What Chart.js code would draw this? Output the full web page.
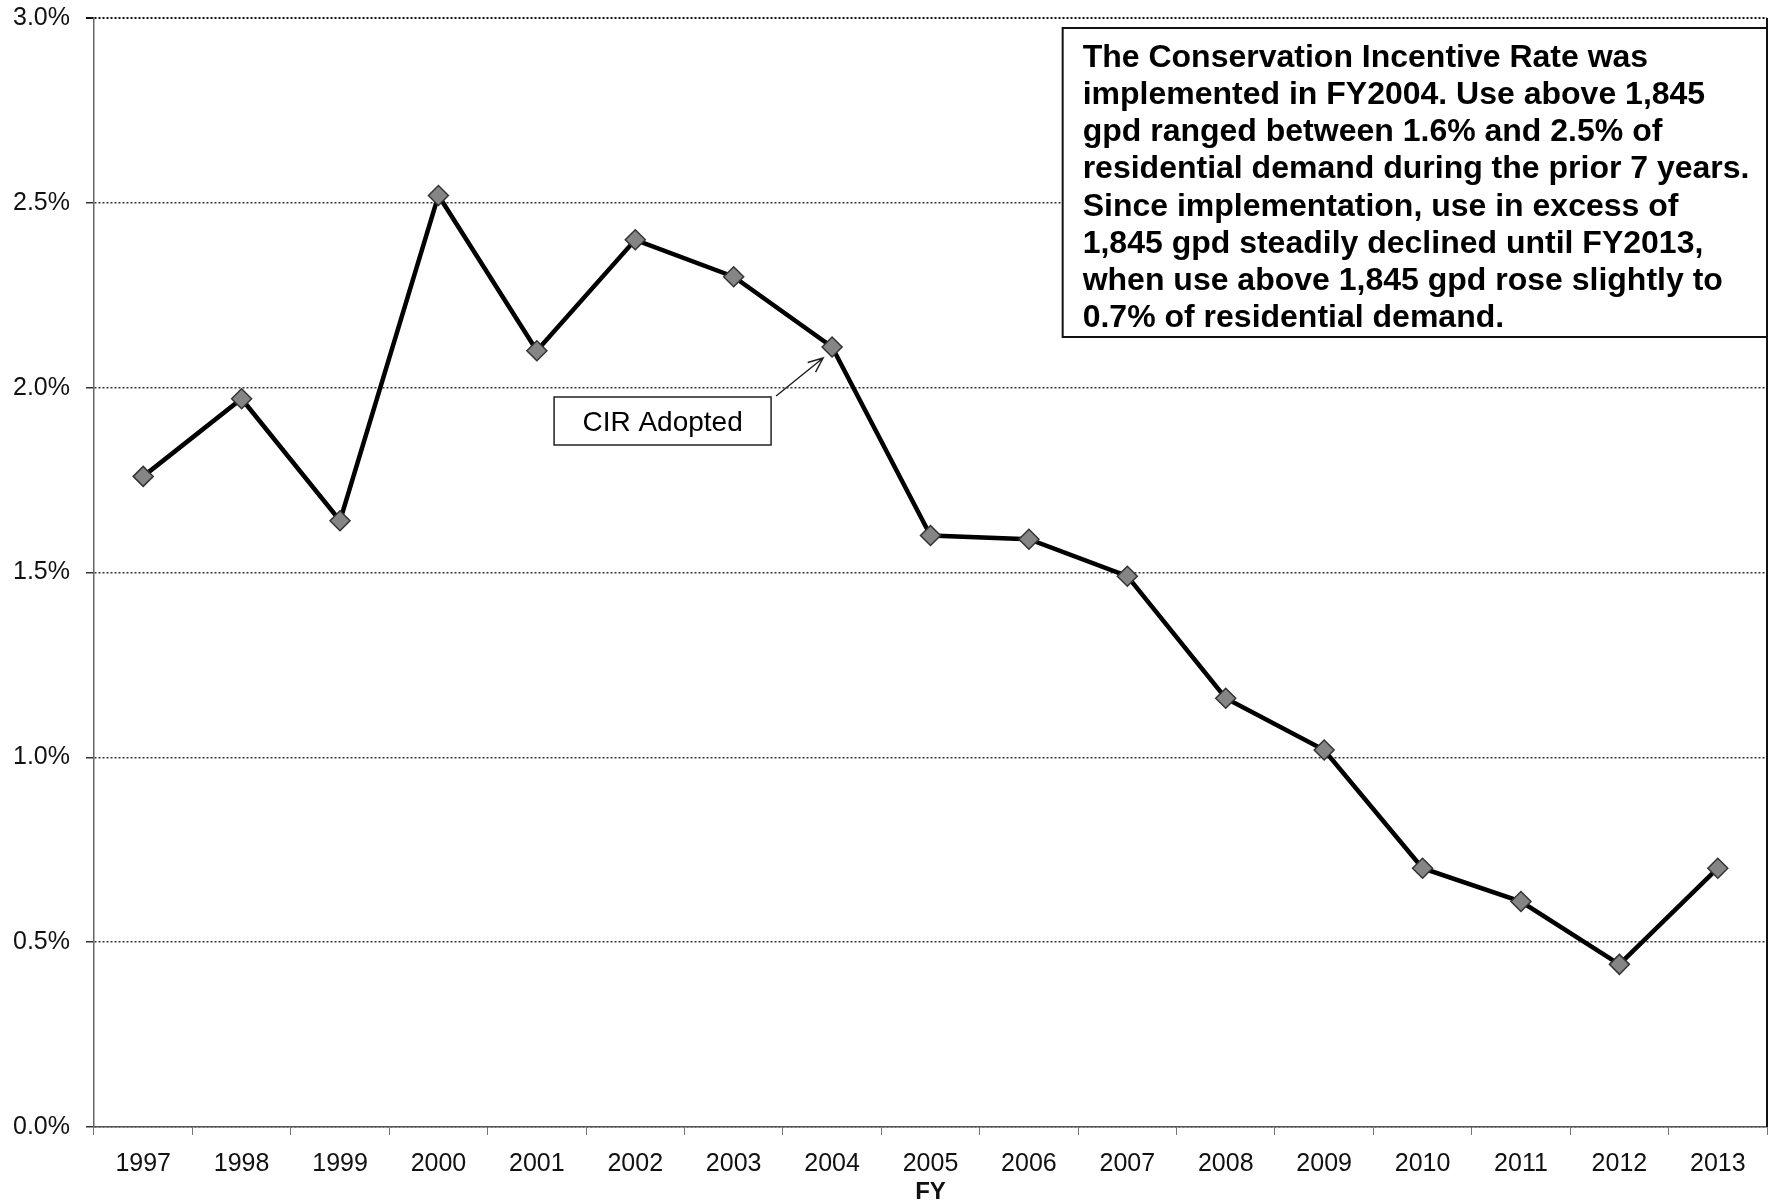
<!DOCTYPE html>
<html>
<head>
<meta charset="utf-8">
<script src="https://cdn.jsdelivr.net/npm/chart.js@4.4.1/dist/chart.umd.min.js"></script>
<style>
  html, body { margin: 0; padding: 0; background: #fff; }
  #wrap { width: 1773px; height: 1204px; }
</style>
</head>
<body>
<div id="wrap"><canvas id="fyChart" width="1773" height="1204"></canvas></div>
<script>
// fiscal years and share of residential demand above 1,845 gpd (%)
var years = ['1997', '1998', '1999', '2000', '2001', '2002', '2003', '2004', '2005',
             '2006', '2007', '2008', '2009', '2010', '2011', '2012', '2013'];
var pctAbove = [1.76, 1.97, 1.64, 2.52, 2.10, 2.40, 2.30, 2.11, 1.60,
                1.59, 1.49, 1.16, 1.02, 0.70, 0.61, 0.44, 0.70];
var yTicks = [0, 0.5, 1.0, 1.5, 2.0, 2.5, 3.0];

var noteLines = [
  'The Conservation Incentive Rate was',
  'implemented in FY2004. Use above 1,845',
  'gpd ranged between 1.6% and 2.5% of',
  'residential demand during the prior 7 years.',
  'Since implementation, use in excess of',
  '1,845 gpd steadily declined until FY2013,',
  'when use above 1,845 gpd rose slightly to',
  '0.7% of residential demand.'
];
var cirLabel = 'CIR Adopted';
var cirYear = '2004';

var FONT = '"Liberation Sans", Arial, sans-serif';

// right frame line, note box and the CIR callout
var extrasPlugin = {
  id: 'extras',
  afterDraw: function (chart) {
    var ctx = chart.ctx;
    var area = chart.chartArea;
    var xs = chart.scales.x, ys = chart.scales.y;
    ctx.save();

    // right frame
    ctx.strokeStyle = '#111';
    ctx.lineWidth = 2;
    ctx.beginPath();
    ctx.moveTo(area.right, area.top);
    ctx.lineTo(area.right, area.bottom);
    ctx.stroke();

    // note box, top right
    var bx = area.left + (area.right - area.left) * 0.579;
    var by = area.top + 10;
    var bw = area.right - bx;
    var bh = 309;
    ctx.fillStyle = '#fff';
    ctx.fillRect(bx, by, bw, bh);
    ctx.strokeStyle = '#111';
    ctx.lineWidth = 2;
    ctx.strokeRect(bx, by, bw, bh);
    ctx.fillStyle = '#000';
    ctx.font = 'bold 32px ' + FONT;
    ctx.textBaseline = 'middle';
    ctx.textAlign = 'left';
    noteLines.forEach(function (line, i) {
      ctx.fillText(line, bx + 20, by + 30 + i * 37.2);
    });

    // CIR callout pointing at the adoption year
    var idx = years.indexOf(cirYear);
    var px = xs.getPixelForValue(idx);
    var py = ys.getPixelForValue(pctAbove[idx]);
    var cx = px - 278, cy = py + 50;
    var cw = 217, ch = 48;
    ctx.fillStyle = '#fff';
    ctx.fillRect(cx, cy, cw, ch);
    ctx.strokeStyle = '#222';
    ctx.lineWidth = 1.5;
    ctx.strokeRect(cx, cy, cw, ch);
    ctx.fillStyle = '#000';
    ctx.font = '28px ' + FONT;
    ctx.textAlign = 'center';
    ctx.fillText(cirLabel, cx + cw / 2, cy + ch / 2 + 2);

    var ax0 = cx + cw + 5, ay0 = cy - 1;
    var ax1 = px - 9, ay1 = py + 11;
    var ang = Math.atan2(ay1 - ay0, ax1 - ax0);
    ctx.lineWidth = 1.5;
    ctx.beginPath();
    ctx.moveTo(ax0, ay0);
    ctx.lineTo(ax1, ay1);
    ctx.moveTo(ax1 - 16 * Math.cos(ang - 0.4), ay1 - 16 * Math.sin(ang - 0.4));
    ctx.lineTo(ax1, ay1);
    ctx.lineTo(ax1 - 16 * Math.cos(ang + 0.4), ay1 - 16 * Math.sin(ang + 0.4));
    ctx.stroke();

    ctx.restore();
  }
};

new Chart(document.getElementById('fyChart'), {
  type: 'line',
  data: {
    labels: years,
    datasets: [{
      data: pctAbove,
      borderColor: '#000',
      borderWidth: 4.5,
      tension: 0,
      clip: false,
      pointStyle: 'rectRot',
      pointRadius: 10,
      pointBackgroundColor: '#858585',
      pointBorderColor: '#333',
      pointBorderWidth: 1.5
    }]
  },
  options: {
    responsive: false,
    animation: false,
    layout: { autoPadding: false, padding: { left: 0, right: 6, top: 18, bottom: 0 } },
    plugins: {
      legend: { display: false },
      tooltip: { enabled: false }
    },
    scales: {
      x: {
        offset: true,
        grid: {
          offset: true,
          drawOnChartArea: false,
          drawTicks: true,
          tickLength: 8,
          color: '#777'
        },
        border: { display: true, color: '#555', width: 1.5, dash: [3, 2] },
        ticks: {
          color: '#111',
          padding: 14,
          maxRotation: 0,
          autoSkip: false,
          font: { family: FONT, size: 25 }
        },
        title: {
          display: true,
          text: 'FY',
          color: '#111',
          padding: { top: 0, bottom: 0 },
          font: { family: FONT, size: 24, weight: 'bold', lineHeight: 1 }
        },
        afterFit: function (scale) {
          scale.height = 77;
          scale.paddingLeft = 0;
          scale.paddingRight = 0;
        }
      },
      y: {
        min: 0,
        max: 3,
        afterBuildTicks: function (scale) {
          scale.ticks = yTicks.map(function (v) { return { value: v }; });
        },
        grid: {
          drawTicks: true,
          tickLength: 8,
          lineWidth: function (c) { return c.tick && c.tick.value === 3 ? 2 : 1.5; },
          color: function (c) { return c.tick && c.tick.value === 3 ? '#111' : '#333'; }
        },
        border: { display: true, color: '#666', width: 1.5, dash: [2, 2] },
        ticks: {
          color: '#111',
          padding: 16,
          font: { family: FONT, size: 25 },
          callback: function (v) { return Number(v).toFixed(1) + '%'; }
        },
        afterFit: function (scale) {
          scale.width = 94;
          scale.paddingTop = 0;
          scale.paddingBottom = 0;
        }
      }
    }
  },
  plugins: [extrasPlugin]
});
</script>
</body>
</html>
